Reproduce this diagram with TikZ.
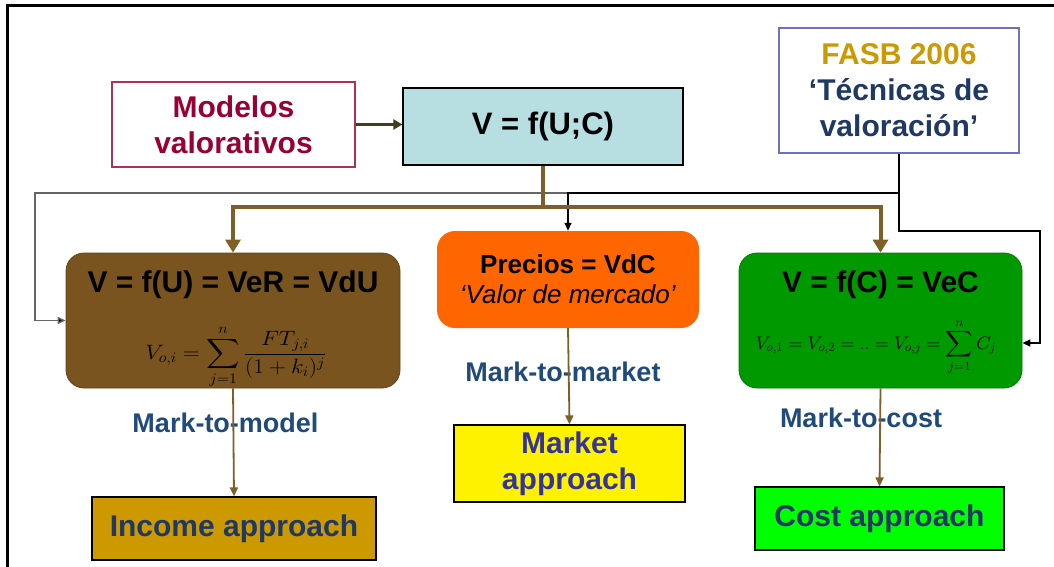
\documentclass[tikz,border=0pt]{standalone}
\usepackage{exscale}
\usepackage{graphicx}
\usepackage[no-math]{fontspec}
\setmainfont{Liberation Sans}
\usetikzlibrary{arrows.meta,calc}

\definecolor{conbrown}{HTML}{7F5F28}
\definecolor{boxbrown}{HTML}{79541E}
\definecolor{boxorange}{HTML}{FF6600}
\definecolor{boxgreen}{HTML}{009900}
\definecolor{boxcyan}{HTML}{B7DEE0}
\definecolor{crimsonline}{HTML}{A8325A}
\definecolor{crimsontext}{HTML}{990033}
\definecolor{slateline}{HTML}{7070C0}
\definecolor{goldtext}{HTML}{CC9900}
\definecolor{navytext}{HTML}{1F3864}
\definecolor{labelnavy}{HTML}{1F4A7A}
\definecolor{incomefill}{HTML}{CC9900}
\definecolor{purpletext}{HTML}{333399}
\definecolor{olivearrow}{HTML}{3F3F1F}

\begin{document}
\begin{tikzpicture}[x=1pt,y=-1pt,
  big/.style={font=\fontsize{30}{36}\selectfont\bfseries},
  sqbox/.style={draw, inner sep=0pt, align=center, line width=1.2pt},
  rbox/.style={inner sep=0pt, align=center, rounded corners=18pt},
  formula/.style={inner sep=0pt},
  lbl/.style={font=\fontsize{27}{32}\selectfont\bfseries, text=labelnavy},
  thickcon/.style={draw=conbrown, line width=4pt},
  thicktip/.style={thickcon, -{Triangle[width=15pt,length=13pt]}},
  thincon/.style={draw=conbrown, line width=1.8pt, -{Triangle[width=8pt,length=9pt]}},
  feed/.style={line width=1.4pt, -{Triangle[width=7pt,length=8pt]}},
]
\useasboundingbox (0,0) rectangle (1054,567);

% outer frame (left and top edges)
\draw[line width=3pt] (7,567) -- (7,6) -- (1054,6);

% top row
\node[sqbox, draw=crimsonline, fill=white, big, text=crimsontext,
      minimum width=243pt, minimum height=85pt] (modelos) at (233.5,124.5)
      {Modelos\\valorativos};
\node[sqbox, fill=boxcyan, font=\fontsize{31}{37}\selectfont\bfseries,
      minimum width=280pt, minimum height=77pt]
      (vf) at (543,126.5) {V = f(U;C)};
\node[sqbox, draw=slateline, fill=white, big, text=navytext,
      minimum width=240pt, minimum height=125pt] (fasb) at (899,90.5)
      {\textcolor{goldtext}{FASB 2006}\\‘Técnicas de\\valoración’};

% middle row: income-based value (brown)
\node[rbox, fill=boxbrown, draw=boxbrown!80!black, line width=0.8pt,
      minimum width=334pt, minimum height=135pt] (vu) at (233,320.5) {};
\node[big] (vut) at (233,285) {V = f(U) = VeR = VdU};
\node[formula, font=\fontsize{20.74}{24}\selectfont] (vuf) at (236,357)
  {\scalebox{1.12}[1.0]{$\displaystyle V_{o,i}=\sum_{j=1}^{n}\frac{FT_{j,i}}{(1+k_i)^{j}}$}};

% middle row: market prices (orange)
\node[rbox, fill=boxorange, font=\fontsize{26}{30}\selectfont,
      minimum width=262pt, minimum height=97pt]
      (precios) at (568,279.5)
      {\textbf{Precios = VdC}\\\textit{‘Valor de mercado’}};

% middle row: cost-based value (green)
\node[rbox, fill=boxgreen, draw=boxgreen!80!black, line width=0.8pt,
      minimum width=283pt, minimum height=135pt] (vc) at (880.5,320.5) {};
\node[big] (vct) at (880.5,285) {V = f(C) = VeC};
\node[formula, font=\fontsize{17.28}{21}\selectfont] (vcf) at (876,347)
  {\scalebox{1.1}[1.05]{$\displaystyle V_{o,1}=V_{o,2}=..=V_{o,j}=\sum_{j=1}^{n}C_j$}};

% labels on the downward links
\node[lbl] (mmodel) at (225.5,423) {Mark-to-model};
\node[lbl] (mmarket) at (563,372) {Mark-to-market};
\node[lbl] (mcost) at (861,418) {Mark-to-cost};

% bottom row
\node[sqbox, fill=incomefill, big, text=navytext,
      minimum width=284pt, minimum height=63pt] (income) at (234,528.5)
      {Income approach};
\node[sqbox, fill=yellow, big, text=purpletext,
      minimum width=231pt, minimum height=77pt] (market) at (569.5,463.5)
      {Market\\approach};
\node[sqbox, fill=green, big, text=navytext,
      minimum width=249pt, minimum height=63pt] (cost) at (879.5,518.5)
      {Cost approach};

% junction points
\coordinate (bj) at (543,207);
\coordinate (gl) at (35,193);
\coordinate (gr) at (1040,231);
\path (vc.east) ++(0,22.5) coordinate (gin);

% models feed the general valuation function
\draw[olivearrow, line width=3pt, -{Triangle[width=10pt,length=9pt]}]
  (modelos.east) -- (modelos.east -| vf.west);

% FASB feedback lines
\draw[feed, draw=black!60, -{Triangle[width=7pt,length=8pt,fill=black]}]
  (fasb.south) |- (gl) |- (vu.west);
\draw[feed] (fasb.south) |- (precios.north |- gl) -- (precios.north);
\draw[feed] (fasb.south) |- (gr) |- (gin);

% brown trunk from V = f(U;C)
\draw[thickcon] (vf.south) -- (vf.south |- bj);
\draw[thicktip] (vf.south |- bj) -| (vu.north);
\draw[thicktip] (vf.south |- bj) -| (vc.north);

% downward links
\draw[thincon] (vu.south) -- (income.north);
\draw[thincon] (precios.south) -- (market.north);
\draw[thincon] (vc.south) -- (cost.north);
\end{tikzpicture}
\end{document}
